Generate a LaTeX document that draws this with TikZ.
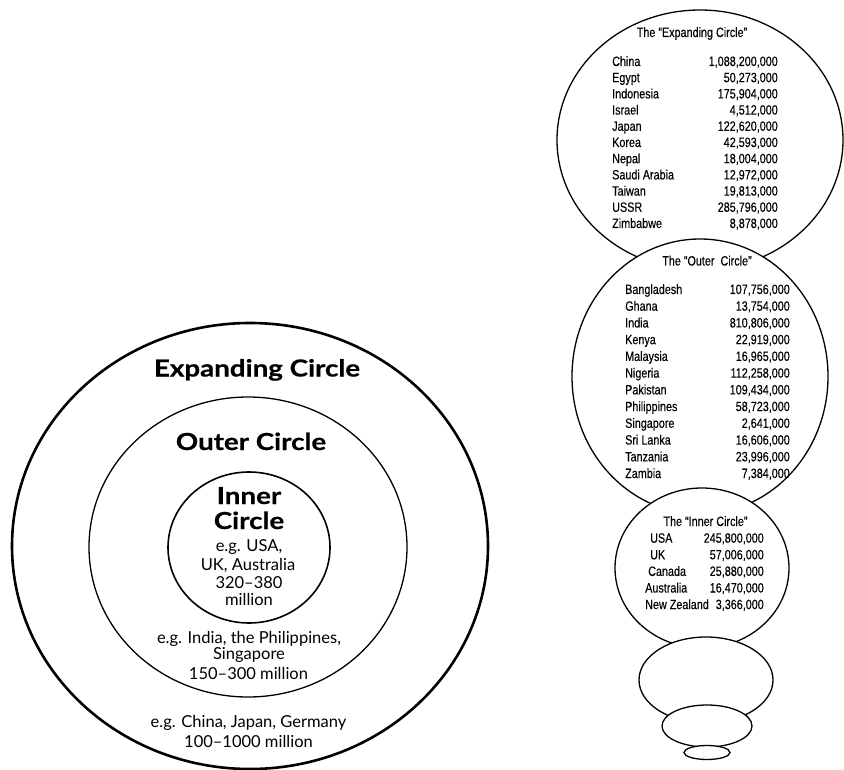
\documentclass[tikz,border=0pt]{standalone}
\usepackage{fontspec}
\setmainfont{Lato}
\newfontfamily\heavyfont[BoldFeatures={FakeStretch=1.18,FakeBold=0.6}]{Lato}
\newfontfamily\narrowfont[FakeStretch=0.8,FakeBold=0.25]{Liberation Sans}
\tikzset{
  ring/.style={draw=black},
  blob/.style={draw=black, fill=white, line width=1.3pt},
  bigtitle/.style={anchor=base, inner sep=0pt, font=\heavyfont\bfseries\fontsize{23.5}{27}\selectfont},
  note/.style={anchor=base, inner sep=0pt, font=\fontsize{16.5}{19}\selectfont},
  tabtxt/.style={inner sep=0pt, font=\narrowfont\fontsize{13.5}{16}\selectfont},
  rowname/.style={tabtxt, anchor=base west},
  rowval/.style={tabtxt, anchor=base east},
  rowtitle/.style={tabtxt, anchor=base}
}
\begin{document}
\begin{tikzpicture}[x=1pt,y=-1pt]
\useasboundingbox (0,0) rectangle (844,770);
\fill[white] (0,0) rectangle (844,770);
% ---------- left: concentric circles ----------
\draw[ring, line width=2.6pt] (250,546) ellipse [x radius=238pt, y radius=223pt];
\draw[ring, line width=1.3pt] (248,547) ellipse [x radius=159pt, y radius=150pt];
\draw[ring, line width=1.6pt] (249,547.5) ellipse [x radius=81pt, y radius=75.5pt];

\node[bigtitle] (texp) at (257,376.5) {Expanding Circle};
\node[bigtitle] (tout) at (251,450) {Outer Circle};
\node[bigtitle] (tin1) at (249,504) {Inner};
\node[bigtitle] (tin2) at (249,529) {Circle};
\node[note] (in1) at (249,551.5) {e.g. USA,};
\node[note] (in2) at (248,570.5) {UK, Australia};
\node[note] (in3) at (249,588) {320–380};
\node[note] (in4) at (249,605) {million};
\node[note] (ou1) at (249,643) {e.g. India, the Philippines,};
\node[note] (ou2) at (249,659.5) {Singapore};
\node[note] (ou3) at (248.5,679) {150–300 million};
\node[note] (ex1) at (248.5,727) {e.g. China, Japan, Germany};
\node[note] (ex2) at (248.5,747) {100–1000 million};

% ---------- right: stacked ellipses ----------
\draw[blob] (700,140) ellipse [x radius=143pt, y radius=130pt];
\draw[blob] (700,376.5) ellipse [x radius=128pt, y radius=137.5pt];
\draw[blob] (702,568) ellipse [x radius=87pt, y radius=80pt];
\draw[blob] (706,680) ellipse [x radius=67pt, y radius=43pt];
\draw[blob] (707,726) ellipse [x radius=45pt, y radius=21pt];
\draw[blob] (707,752.5) ellipse [x radius=23pt, y radius=7pt];

% Expanding circle table
\node[rowtitle] (et) at (692,37) {The “Expanding Circle”};
\foreach \n/\v [count=\i] in {China/{1,088,200,000}, Egypt/{50,273,000}, Indonesia/{175,904,000}, Israel/{4,512,000}, Japan/{122,620,000}, Korea/{42,593,000}, Nepal/{18,004,000}, Saudi Arabia/{12,972,000}, Taiwan/{19,813,000}, USSR/{285,796,000}, Zimbabwe/{8,878,000}}{
  \node[rowname] (en\i) at (612,{66+16.2*(\i-1)}) {\n};
  \node[rowval] (ev\i) at (778,{66+16.2*(\i-1)}) {\v};
}
% Outer circle table
\node[rowtitle] (ot) at (707,265.5) {The “Outer\ \ Circle”};
\foreach \n/\v [count=\i] in {Bangladesh/{107,756,000}, Ghana/{13,754,000}, India/{810,806,000}, Kenya/{22,919,000}, Malaysia/{16,965,000}, Nigeria/{112,258,000}, Pakistan/{109,434,000}, Philippines/{58,723,000}, Singapore/{2,641,000}, Sri Lanka/{16,606,000}, Tanzania/{23,996,000}, Zambia/{7,384,000}}{
  \node[rowname] (on\i) at (625,{294+16.73*(\i-1)}) {\n};
  \node[rowval] (ov\i) at (790,{294+16.73*(\i-1)}) {\v};
}
% Inner circle table
\node[rowtitle] (it) at (705.5,526) {The “Inner Circle”};
\foreach \n/\v/\x [count=\i] in {USA/{245,800,000}/650, UK/{57,006,000}/650, Canada/{25,880,000}/648, Australia/{16,470,000}/645, New Zealand/{3,366,000}/645}{
  \node[rowname] (in\i) at (\x,{542.7+16.6*(\i-1)}) {\n};
  \node[rowval] (iv\i) at (764,{542.7+16.6*(\i-1)}) {\v};
}
\end{tikzpicture}
\end{document}
